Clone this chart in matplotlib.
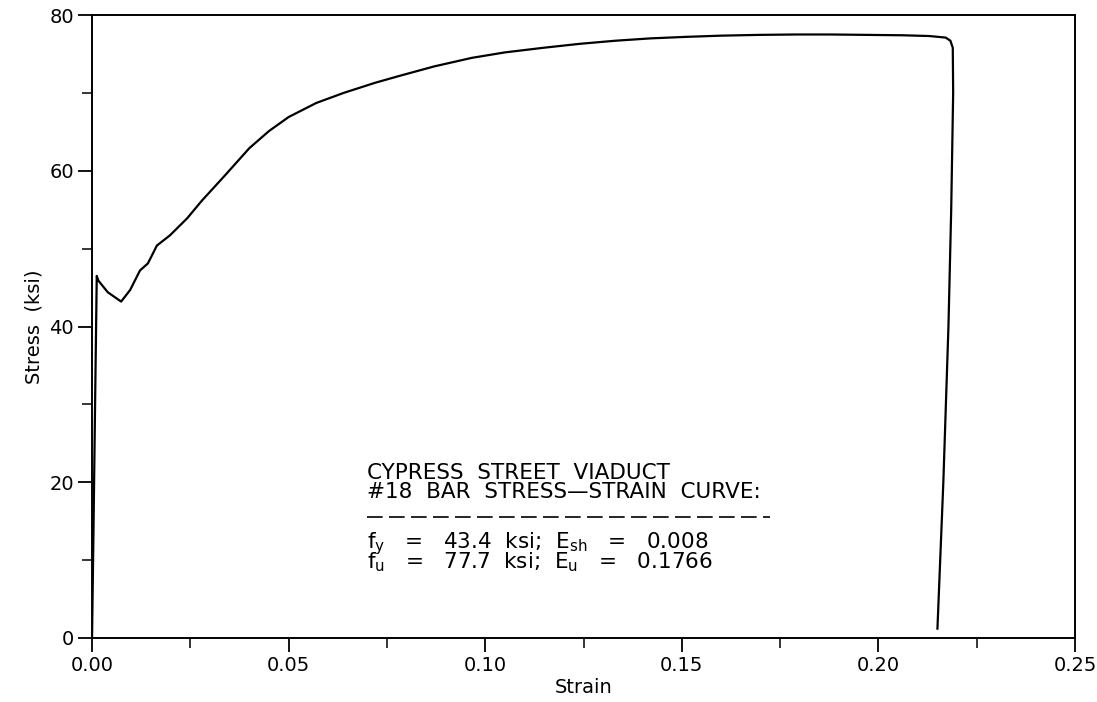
#!/usr/bin/env python3
''' stress-strain curve of a #18 reinforcing bar'''
import matplotlib
matplotlib.use("Agg")
import matplotlib.pyplot as plt
from matplotlib.ticker import MultipleLocator

strain = [0.0, 0.0004, 0.0008, 0.0012, 0.0016, 0.0040, 0.0074, 0.0097,
          0.0122, 0.0142, 0.0165, 0.0198, 0.0242, 0.0280, 0.0338, 0.0400,
          0.0450, 0.0500, 0.0570, 0.0640, 0.0720, 0.0783, 0.0870, 0.0966,
          0.1050, 0.1149, 0.1240, 0.1331, 0.1420, 0.1513, 0.1600, 0.1696,
          0.1790, 0.1879, 0.1970, 0.2061, 0.2130, 0.2171, 0.2183, 0.2189,
          0.2190, 0.2185, 0.2178, 0.2165, 0.2150]
stress = [0.0, 15.0, 31.0, 46.5, 45.9, 44.4, 43.2, 44.7,
          47.2, 48.1, 50.4, 51.7, 53.9, 56.2, 59.4, 62.9,
          65.1, 66.9, 68.7, 70.0, 71.3, 72.2, 73.4, 74.5,
          75.2, 75.8, 76.3, 76.7, 77.0, 77.2, 77.35, 77.45,
          77.5, 77.5, 77.45, 77.4, 77.3, 77.1, 76.7, 75.8,
          70.0, 55.0, 40.0, 20.0, 1.2]

title_lines = ["CYPRESS  STREET  VIADUCT", "#18  BAR  STRESS\u2014STRAIN  CURVE:"]
prop_lines = [r"f$_{\mathregular{y}}$   =   43.4  ksi;  E$_{\mathregular{sh}}$   =   0.008",
              r"f$_{\mathregular{u}}$   =   77.7  ksi;  E$_{\mathregular{u}}$   =   0.1766"]

fig = plt.figure(figsize=(10.97, 7.02), dpi=100)
ax = fig.add_axes([0.0839, 0.0912, 0.8961, 0.8874])
ax.plot(strain, stress, color='black', linewidth=1.6)

ax.set_xlim(0, 0.25)
ax.set_ylim(0, 80)
ax.xaxis.set_major_locator(MultipleLocator(0.05))
ax.xaxis.set_minor_locator(MultipleLocator(0.025))
ax.yaxis.set_major_locator(MultipleLocator(20))
ax.yaxis.set_minor_locator(MultipleLocator(10))
ax.xaxis.set_major_formatter(plt.FuncFormatter(lambda v, p: "%.2f" % v))
ax.tick_params(which='major', direction='out', length=10, width=1.3,
               labelsize=14, pad=3)
ax.tick_params(which='minor', direction='out', length=7, width=1.1)
for s in ax.spines.values():
    s.set_linewidth(1.4)

ax.set_xlabel("Strain", fontsize=14, labelpad=2)
ax.set_ylabel("Stress  (ksi)", fontsize=14, labelpad=4)

# note block under the curve
tx = 0.280
ax.text(tx, 0.225, "\n".join(title_lines), transform=ax.transAxes,
        fontsize=15.5, va='baseline', linespacing=0.94)
ax.plot([tx, 0.69], [0.194, 0.194], transform=ax.transAxes, color='black',
        linewidth=1.2, dashes=(9.4, 3.8))
ax.text(tx, 0.112, "\n".join(prop_lines), transform=ax.transAxes,
        fontsize=15.5, va='baseline', linespacing=0.62)

fig.savefig("out.png", dpi=100)
